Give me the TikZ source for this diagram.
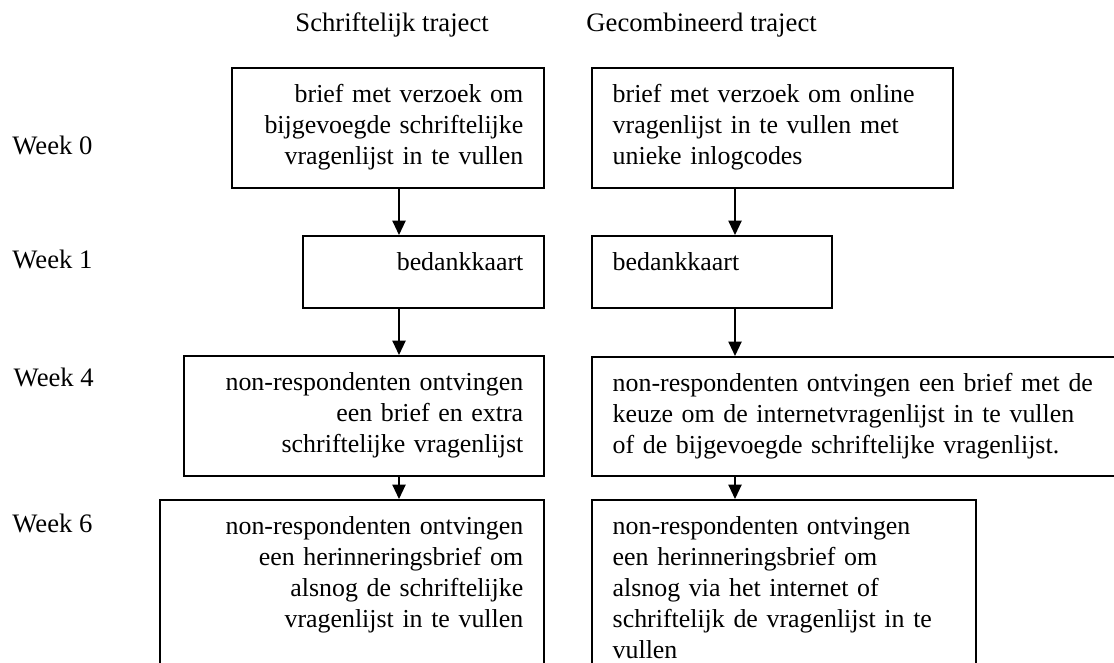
\documentclass[tikz,border=0pt]{standalone}
\usepackage{fontspec}
\setmainfont{Liberation Serif}
\usetikzlibrary{arrows.meta}

\begin{document}
\begin{tikzpicture}
  [x=0.45pt, y=-0.45pt,
  font=\fontsize{12pt}{13.95pt}\selectfont,
  block/.style={rectangle, draw, line width=0.9pt, anchor=north west, inner xsep=9.45pt, inner ysep=0pt, text height=15.5pt, font=\fontsize{11.65pt}{13.95pt}\selectfont},
  rightblock/.style={block, align=right},
  leftblock/.style={block, align=left},
  week/.style={anchor=base west, inner sep=0pt},
  line/.style={draw, line width=0.6pt, -{Triangle[length=6.5pt, width=6pt]}}]
  \useasboundingbox (0,0) rectangle (1114,663);
  \clip (0,0) rectangle (1114,663);
  % headers and weeks
  \node [week] (headA) at (295,32) {Schriftelijk traject};
  \node [week] (headB) at (586,32) {Gecombineerd traject};
  \node [week] (week0) at (12,154.3) {Week 0};
  \node [week] (week1) at (12,269) {Week 1};
  \node [week] (week4) at (13.3,386) {Week 4};
  \node [week] (week6) at (12,532) {Week 6};
  % nodes
  \node [rightblock, text width=121.77pt, text depth=38.5pt] (a0) at (230.7,66.7)
    {brief met verzoek om\\bijgevoegde schriftelijke\\vragenlijst in te vullen};
  \node [leftblock, text width=143.55pt, text depth=38.5pt] (b0) at (590.7,66.7)
    {brief met verzoek om online\\vragenlijst in te vullen met\\unieke inlogcodes};
  \node [rightblock, text width=89.55pt, text depth=16.77pt] (a1) at (302.3,235) {bedankkaart};
  \node [leftblock, text width=89.37pt, text depth=16.77pt] (b1) at (590.7,235) {bedankkaart};
  \node [rightblock, text width=143.2pt, text depth=38.5pt] (a4) at (183,355)
    {non-respondenten ontvingen\\een brief en extra\\schriftelijke vragenlijst};
  \node [leftblock, text width=223.8pt, text depth=38.05pt] (b4) at (590.7,356)
    {non-respondenten ontvingen een brief met de\\keuze om de internetvragenlijst in te vullen\\of de bijgevoegde schriftelijke vragenlijst.};
  \node [rightblock, text width=153.9pt, text depth=65.5pt] (a6) at (159.3,499)
    {non-respondenten ontvingen\\een herinneringsbrief om\\alsnog de schriftelijke\\vragenlijst in te vullen};
  \node [leftblock, text width=153.9pt, text depth=65.5pt] (b6) at (590.7,499)
    {non-respondenten ontvingen\\een herinneringsbrief om\\alsnog via het internet of\\schriftelijk de vragenlijst in te\\vullen};
  \coordinate (colA) at (399,0);
  \coordinate (colB) at (735,0);
  % edges
  \path [line] (a0.south -| colA) -- (a1.north -| colA);
  \path [line] (a1.south -| colA) -- (a4.north -| colA);
  \path [line] (a4.south -| colA) -- (a6.north -| colA);
  \path [line] (b0.south -| colB) -- (b1.north -| colB);
  \path [line] (b1.south -| colB) -- (b4.north -| colB);
  \path [line] (b4.south -| colB) -- (b6.north -| colB);
\end{tikzpicture}
\end{document}
